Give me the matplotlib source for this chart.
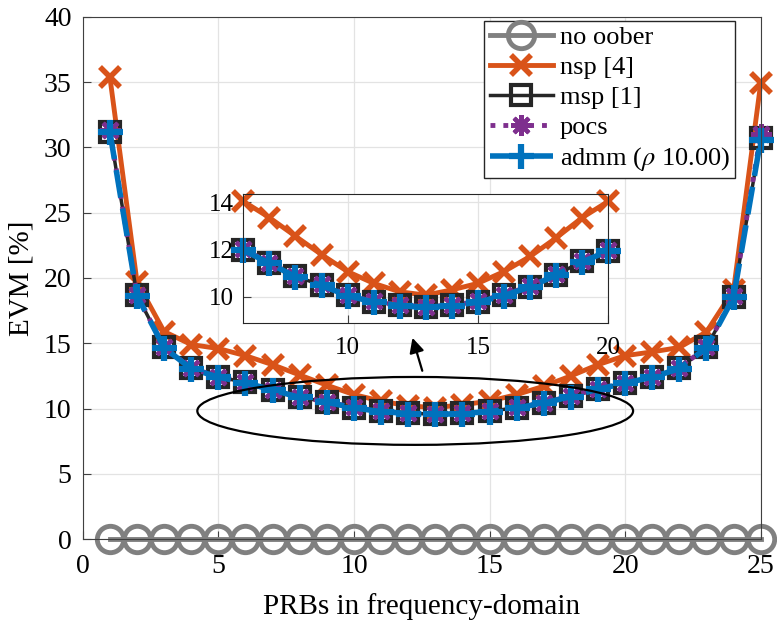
import matplotlib.pyplot as plt
from matplotlib.patches import Ellipse

plt.rcParams['font.family'] = ['Liberation Serif', 'DejaVu Serif']
plt.rcParams['mathtext.fontset'] = 'stix'

# PRB index and EVM [%] per method
prbs = list(range(1, 26))
no_oober = [0.0] * 25
nsp = [35.4, 19.7, 15.9, 14.9, 14.6, 14.05, 13.36, 12.57, 11.79, 11.07, 10.57, 10.21, 10.07,
       10.29, 10.57, 11.07, 11.71, 12.5, 13.36, 14.05, 14.34, 14.68, 15.87, 19.07, 34.9]
msp = [31.2, 18.68, 14.68, 13.07, 12.43, 12.0, 11.43, 10.86, 10.5, 10.07, 9.79, 9.64, 9.57,
       9.64, 9.79, 10.07, 10.43, 10.93, 11.5, 11.95, 12.43, 13.07, 14.68, 18.55, 30.7]
pocs = [31.3, 18.7, 14.7, 13.1, 12.45, 12.02, 11.45, 10.88, 10.52, 10.09, 9.8, 9.65, 9.58,
        9.65, 9.8, 10.09, 10.45, 10.95, 11.52, 11.97, 12.45, 13.1, 14.7, 18.6, 31.0]
admm = [31.2, 18.65, 14.66, 13.05, 12.41, 11.98, 11.42, 10.85, 10.48, 10.05, 9.77, 9.62, 9.55,
        9.62, 9.77, 10.05, 10.42, 10.92, 11.48, 11.94, 12.41, 13.05, 14.66, 18.52, 30.6]

gray = '#808080'
orange = '#D95319'
black = '#262626'
purple = '#7E2F8E'
blue = '#0072BD'

fig = plt.figure(figsize=(7.77, 6.24), dpi=100)
ax = fig.add_axes([0.1065, 0.136, 0.8725, 0.837])


def draw_series(a, x, lo, hi, with_gray=True):
    sl = slice(lo, hi)
    if with_gray:
        a.plot(x[sl], no_oober[sl], '-o', color=gray, lw=3.5, ms=19, mew=3.5,
               mfc='none', clip_on=False, label='no oober')
    a.plot(x[sl], nsp[sl], '-x', color=orange, lw=3.5, ms=14, mew=4,
           clip_on=False, label='nsp [4]')
    a.plot(x[sl], msp[sl], '-s', color=black, lw=2.5, ms=14, mew=3,
           mfc='none', clip_on=False, label='msp [1]')
    a.plot(x[sl], pocs[sl], ':', marker=(8, 2, 0), color=purple, lw=3.5, ms=15,
           mew=3, clip_on=False, label='pocs')
    a.plot(x[sl], admm[sl], '--+', color=blue, lw=4, ms=18, mew=4.5,
           dashes=(5, 2), clip_on=False, label=r'admm ($\rho$ 10.00)')


draw_series(ax, prbs, 0, 25)

ax.set_xlim(0, 25)
ax.set_ylim(0, 40)
ax.set_xticks([0, 5, 10, 15, 20, 25])
ax.set_yticks(range(0, 41, 5))
ax.grid(True, color='#e3e3e3', lw=0.9)
ax.set_axisbelow(True)
ax.tick_params(direction='in', length=6, labelsize=20, color='#404040')
ax.tick_params(axis='x', pad=11)
ax.tick_params(axis='y', pad=8)
for s in ax.spines.values():
    s.set_color('#404040')
ax.set_xlabel('PRBs in frequency-domain', fontsize=21, labelpad=10)
ax.set_ylabel('EVM [%]', fontsize=21, labelpad=7)

leg = ax.legend(loc='upper right', fontsize=19,
                fancybox=False, framealpha=1, edgecolor='#262626',
                handlelength=2.4, handletextpad=0.25, borderpad=0.2,
                labelspacing=0.24, borderaxespad=0)
leg.set_bbox_to_anchor((735 / 777, 1 - 20.7 / 624), transform=fig.transFigure)
leg.get_frame().set_linewidth(1.0)

# highlight ellipse and arrow to the zoomed view
ell = Ellipse((12.26, 9.82), 16.07, 5.2, fill=False, ec='black', lw=1.6, zorder=5)
ax.add_patch(ell)
ax.annotate('', xy=(12.13, 15.62), xytext=(12.55, 12.69),
            arrowprops=dict(arrowstyle='-|>', color='black', lw=1.6,
                            mutation_scale=22), zorder=5)

# inset
axin = fig.add_axes([0.3131, 0.4829, 0.4698, 0.2058])
draw_series(axin, prbs, 5, 20, with_gray=False)
axin.set_xlim(6, 20)
axin.set_ylim(8.9, 14.35)
axin.set_xticks([10, 15, 20])
axin.set_yticks([10, 12, 14])
axin.grid(True, color='#e3e3e3', lw=0.9)
axin.tick_params(direction='in', length=6, labelsize=18, color='#404040')
axin.tick_params(axis='x', pad=10)
axin.tick_params(axis='y', pad=7)
for s in axin.spines.values():
    s.set_color('#262626')

fig.savefig('out.png', dpi=100)
